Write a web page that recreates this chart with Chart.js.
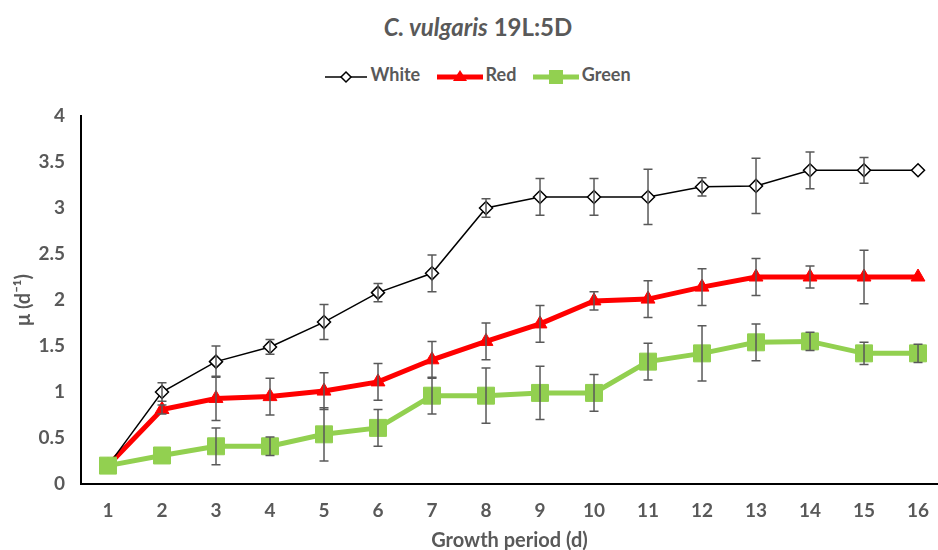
<!DOCTYPE html>
<html>
<head>
<meta charset="utf-8">
<script src="https://cdn.jsdelivr.net/npm/chart.js@4"></script>
<style>
  body { margin: 0; background: #fff; font-family: Lato, "Open Sans", sans-serif; }
  #wrap { position: relative; width: 938px; height: 550px; }
  #title { position: absolute; top: 12px; left: 0; width: 956px; text-align: center;
           font-size: 24px; font-weight: bold; color: #595959; }
  #legend { position: absolute; top: 61px; left: 0; width: 956px; text-align: center;
            font-size: 18px; font-weight: bold; color: #595959; }
  #legend span.item { display: inline-block; margin: 0 6px; vertical-align: middle; }
  #legend svg { vertical-align: middle; margin-right: 3px; }
  canvas { position: absolute; top: 0; left: 0; }
</style>
</head>
<body>
<div id="wrap">
  <div id="title"><i>C. vulgaris</i> 19L:5D</div>
  <div id="legend">
    <span class="item"><svg width="42" height="16"><line x1="0" y1="8" x2="42" y2="8" stroke="#000" stroke-width="1.5"/><polygon points="21,3 26,8 21,13 16,8" fill="#fff" stroke="#000" stroke-width="1.5"/></svg>White</span>
    <span class="item"><svg width="46" height="16"><line x1="0" y1="8" x2="46" y2="8" stroke="#ff0000" stroke-width="5"/><polygon points="23,1 30,12 16,12" fill="#ff0000"/></svg>Red</span>
    <span class="item"><svg width="46" height="16"><line x1="0" y1="8" x2="46" y2="8" stroke="#92d050" stroke-width="5"/><rect x="16" y="1" width="14" height="14" fill="#92d050"/></svg>Green</span>
  </div>
  <canvas id="chart" width="938" height="550"></canvas>
</div>
<script>
  const days = [1, 2, 3, 4, 5, 6, 7, 8, 9, 10, 11, 12, 13, 14, 15, 16];
  const yTicks = [0, 0.5, 1, 1.5, 2, 2.5, 3, 3.5, 4];

  const white = [0.2, 1.0, 1.33, 1.49, 1.76, 2.08, 2.29, 3.0, 3.12, 3.12, 3.12, 3.23, 3.24, 3.41, 3.41, 3.41];
  const whiteErr = [0, 0.1, 0.17, 0.08, 0.19, 0.1, 0.2, 0.1, 0.2, 0.2, 0.3, 0.1, 0.3, 0.2, 0.14, 0];
  const red = [0.2, 0.81, 0.93, 0.95, 1.01, 1.11, 1.35, 1.55, 1.74, 1.99, 2.01, 2.14, 2.25, 2.25, 2.25, 2.25];
  const redErr = [0, 0.05, 0.24, 0.2, 0.2, 0.2, 0.2, 0.2, 0.2, 0.1, 0.2, 0.2, 0.2, 0.12, 0.29, 0];
  const green = [0.2, 0.31, 0.41, 0.41, 0.54, 0.61, 0.96, 0.96, 0.99, 0.99, 1.33, 1.42, 1.54, 1.55, 1.42, 1.42];
  const greenErr = [0, 0, 0.2, 0.1, 0.29, 0.2, 0.2, 0.3, 0.29, 0.2, 0.2, 0.3, 0.2, 0.1, 0.12, 0.1];

  const toPoints = vals => days.map((d, i) => ({ x: d, y: vals[i] }));

  // draws the +/- error whiskers on top of every series
  const errorBars = {
    id: "errorBars",
    afterDatasetsDraw(chart) {
      const { ctx, scales: { x, y } } = chart;
      ctx.save();
      ctx.strokeStyle = "#595959";
      ctx.lineWidth = 1.5;
      chart.data.datasets.forEach(ds => {
        ds.errors.forEach((e, i) => {
          if (!e) return;
          const px = x.getPixelForValue(days[i]);
          const top = y.getPixelForValue(ds.data[i].y + e);
          const bot = y.getPixelForValue(ds.data[i].y - e);
          ctx.beginPath();
          ctx.moveTo(px, top); ctx.lineTo(px, bot);
          ctx.moveTo(px - 4.5, top); ctx.lineTo(px + 4.5, top);
          ctx.moveTo(px - 4.5, bot); ctx.lineTo(px + 4.5, bot);
          ctx.stroke();
        });
      });
      ctx.restore();
    }
  };

  const tickFont = { family: "Lato", size: 19, weight: "bold" };
  const titleFont = { family: "Lato", size: 20, weight: "bold" };

  new Chart(document.getElementById("chart"), {
    type: "line",
    data: {
      datasets: [
        {
          label: "White",
          data: toPoints(white),
          errors: whiteErr,
          borderColor: "#000",
          borderWidth: 1.5,
          pointStyle: "rectRot",
          pointRadius: 6.5,
          pointBackgroundColor: "#fff",
          pointBorderColor: "#000",
          pointBorderWidth: 1.5,
          order: 1
        },
        {
          label: "Red",
          data: toPoints(red),
          errors: redErr,
          borderColor: "#ff0000",
          borderWidth: 5,
          pointStyle: "triangle",
          pointRadius: 8,
          pointBackgroundColor: "#ff0000",
          pointBorderColor: "#ff0000",
          pointBorderWidth: 1,
          order: 2
        },
        {
          label: "Green",
          data: toPoints(green),
          errors: greenErr,
          borderColor: "#92d050",
          borderWidth: 5,
          pointStyle: "rect",
          pointRadius: 12,
          pointBackgroundColor: "#92d050",
          pointBorderColor: "#92d050",
          pointBorderWidth: 1,
          order: 0
        }
      ]
    },
    options: {
      responsive: false,
      animation: false,
      layout: { autoPadding: false, padding: { top: 116, left: 0, right: 0, bottom: 0 } },
      plugins: {
        legend: { display: false },
        tooltip: { enabled: false }
      },
      scales: {
        x: {
          type: "linear",
          min: 0.5,
          max: 16.37,
          afterBuildTicks: scale => { scale.ticks = days.map(v => ({ value: v })); },
          afterFit: scale => { scale.height = 66; scale.paddingLeft = 0; scale.paddingRight = 0; },
          grid: { display: false, drawTicks: false },
          border: { display: true, color: "#000", width: 2 },
          ticks: { color: "#595959", font: tickFont, padding: 15, maxRotation: 0, autoSkip: false },
          title: {
            display: true,
            text: "Growth period (d)",
            color: "#595959",
            font: titleFont,
            padding: { top: 0, bottom: -3 }
          }
        },
        y: {
          min: 0,
          max: 4,
          afterBuildTicks: scale => { scale.ticks = yTicks.map(v => ({ value: v })); },
          afterFit: scale => { scale.width = 81; scale.paddingTop = 0; scale.paddingBottom = 0; },
          grid: { display: false, drawTicks: false },
          border: { display: true, color: "#000", width: 2 },
          ticks: { color: "#595959", font: tickFont, padding: 16, callback: v => String(v) },
          title: {
            display: true,
            text: "μ (d⁻¹)",
            color: "#595959",
            font: titleFont,
            padding: { top: 12, bottom: 0 }
          }
        }
      }
    },
    plugins: [errorBars]
  });
</script>
</body>
</html>
